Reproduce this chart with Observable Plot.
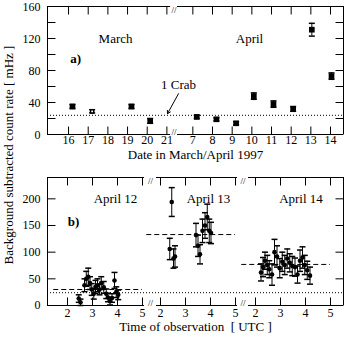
<!DOCTYPE html>
<html><head><meta charset="utf-8">
<script src="https://cdn.jsdelivr.net/npm/d3@7"></script>
<script src="https://cdn.jsdelivr.net/npm/@observablehq/plot@0.6"></script>
<style>
body{margin:0;background:#fff;}
#wrap{position:relative;width:346px;height:337px;font-family:"Liberation Serif","DejaVu Serif",serif;}
#topPanel,#botPanel{display:block;line-height:0;}
#ylab{position:absolute;left:8px;top:155px;transform:translate(-50%,-50%) rotate(-90deg);white-space:nowrap;font-size:13px;line-height:13px;}
</style></head><body>
<div id="wrap"><div id="topPanel"></div><div id="botPanel"></div><div id="ylab">Background subtracted count rate [ mHz ]</div></div>
<script>
// ---------- data: panel a ----------
const crabRate = 24;
const marchDays = [16, 17, 18, 19, 20, 21];
const aprilDays = [7, 8, 9, 10, 11, 12, 13, 14];
const marchObs = [16.2, 17.2, 19.2, 20.15];
const marchRate = [35, 29, 35, 17];
const marchErr = [2.5, 2, 2.5, 3];
const marchOpen = [false, true, false, false];
const aprilObs = [7.2, 8.2, 9.2, 10.1, 11.1, 12.1, 13.05, 14.05];
const aprilRate = [22, 19, 14, 48, 38, 32, 131, 73];
const aprilErr = [2, 2, 2, 4, 4, 3, 8, 4];
const topYTicks = [0, 20, 40, 60, 80, 100, 120, 140, 160];
const topYLabels = [0, 40, 80, 120, 160];

// ---------- data: panel b ----------
const hourTicks = [2, 3, 4, 5];
const botYTicks = [0, 50, 100, 150, 200];
const apr12Hour = [2.45, 2.52, 2.68, 2.75, 2.83, 2.9, 2.97, 3.05, 3.12, 3.2, 3.28, 3.35, 3.45, 3.55, 3.62, 3.7, 3.78, 3.88, 3.95, 4.03];
const apr12Rate = [13, 6, 38, 50, 54, 42, 30, 22, 35, 38, 30, 42, 34, 22, 15, 8, 14, 47, 25, 20];
const apr12Err  = [7, 6, 12, 14, 16, 12, 11, 10, 12, 12, 10, 12, 11, 9, 8, 7, 8, 15, 10, 9];
const apr13Hour = [2.37, 2.45, 2.52, 2.58, 3.42, 3.5, 3.58, 3.68, 3.78, 3.87, 3.95, 4.02];
const apr13Rate = [106, 194, 88, 92, 132, 112, 96, 140, 150, 166, 140, 136];
const apr13Err  = [20, 27, 18, 20, 22, 20, 18, 22, 24, 24, 22, 20];
const apr14Hour = [2.22, 2.3, 2.38, 2.47, 2.55, 2.66, 2.76, 2.86, 2.97, 3.07, 3.17, 3.27, 3.37, 3.47, 3.58, 3.68, 3.78, 3.88, 3.97, 4.07, 4.18];
const apr14Rate = [62, 72, 84, 76, 68, 58, 100, 92, 70, 82, 76, 88, 80, 74, 72, 58, 84, 90, 76, 66, 56];
const apr14Err  = [16, 18, 16, 18, 16, 20, 24, 20, 18, 18, 18, 18, 17, 18, 17, 16, 20, 20, 18, 17, 16];
const nightMeans = [30, 133, 77];
const nightNames = ["April 12", "April 13", "April 14"];
const nightLabelHour = [3.92, 3.92, 3.82];

// ---------- broken-axis mappings ----------
const uMarch = d => d - 16;
const uApril = d => d - 7 + 6.32;
const segOffset = [0, 3.72, 7.52];

const black = "black";
const FONT = '"Liberation Serif","DejaVu Serif",serif';
const tickUp = {draw(c){c.moveTo(0,0);c.lineTo(0,-8);}};
const tickDown = {draw(c){c.moveTo(0,0);c.lineTo(0,8);}};
const tickRight = {draw(c){c.moveTo(0,0);c.lineTo(8,0);}};
const tickLeft = {draw(c){c.moveTo(0,0);c.lineTo(-8,0);}};
const cap = {draw(c){c.moveTo(-3,0);c.lineTo(3,0);}};
const tickDot = (data, opts, sym) => Plot.dot(data, {...opts, symbol: sym, stroke: black, fill: "none", strokeWidth: 1});

// ---------- panel a ----------
const topPts = [
  ...marchObs.map((d, i) => ({u: uMarch(d), v: marchRate[i], e: marchErr[i], open: marchOpen[i]})),
  ...aprilObs.map((d, i) => ({u: uApril(d), v: aprilRate[i], e: aprilErr[i], open: false}))
];
const dayTicks = [
  ...marchDays.map(d => ({u: uMarch(d), label: String(d)})),
  ...aprilDays.map(d => ({u: uApril(d), label: String(d)}))
];
const topX = [-1.07, 13.98];
const topSegs = [[-1.07, 5.19], [5.54, 13.98]];

const topChart = Plot.plot({
  width: 346, height: 169, marginLeft: 47, marginRight: 3, marginTop: 6, marginBottom: 35,
  x: {domain: topX, axis: null},
  y: {domain: [0, 160], axis: null},
  style: {fontFamily: FONT, fontSize: "12px", background: "white", color: "black"},
  marks: [
    Plot.ruleY([crabRate], {stroke: black, strokeDasharray: "1,2"}),
    ...topSegs.map(s => Plot.ruleY([0, 160], {x1: s[0], x2: s[1], stroke: black})),
    Plot.ruleX(topX, {stroke: black}),
    Plot.text(["//"], {x: 5.36, frameAnchor: "top", text: d => d, fontSize: 9}),
    Plot.text(["//"], {x: 5.36, frameAnchor: "bottom", text: d => d, fontSize: 9}),
    tickDot(dayTicks, {x: "u", frameAnchor: "bottom"}, tickUp),
    tickDot(dayTicks, {x: "u", frameAnchor: "top"}, tickDown),
    tickDot(topYTicks, {y: d => d, frameAnchor: "left"}, tickRight),
    tickDot(topYTicks, {y: d => d, frameAnchor: "right"}, tickLeft),
    Plot.text(dayTicks, {x: "u", text: "label", frameAnchor: "bottom", dy: 9}),
    Plot.text(topYLabels, {y: d => d, text: d => String(d), frameAnchor: "left", textAnchor: "end", dx: -7, dy: 1}),
    Plot.text(["Date in March/April 1997"], {frameAnchor: "bottom", text: d => d, dy: 24, fontSize: 13}),
    Plot.ruleX(topPts, {x: "u", y1: d => d.v - d.e, y2: d => d.v + d.e, stroke: black}),
    Plot.dot(topPts, {x: "u", y: d => d.v + d.e, symbol: cap, stroke: black, fill: "none"}),
    Plot.dot(topPts, {x: "u", y: d => d.v - d.e, symbol: cap, stroke: black, fill: "none"}),
    Plot.dot(topPts.filter(d => !d.open), {x: "u", y: "v", symbol: "square", r: 3.2, fill: black, stroke: "none"}),
    Plot.dot(topPts.filter(d => d.open), {x: "u", y: "v", symbol: "square", r: 1.8, fill: "white", stroke: black}),
    Plot.text(["March"], {x: 2.39, y: 119, text: d => d, fontSize: 13}),
    Plot.text(["April"], {x: 9.2, y: 119, text: d => d, fontSize: 13}),
    Plot.text(["a)"], {x: 0.36, y: 95, text: d => d, fontWeight: "bold", fontSize: 13}),
    Plot.text(["1 Crab"], {x: 5.59, y: 62.5, text: d => d, fontSize: 13}),
    Plot.arrow([{x1: 5.59, y1: 51, x2: 5.03, y2: 26}], {x1: "x1", y1: "y1", x2: "x2", y2: "y2", stroke: black, headLength: 5, strokeWidth: 1})
  ]
});
document.getElementById("topPanel").appendChild(topChart);

// ---------- panel b ----------
const nights = [
  [apr12Hour, apr12Rate, apr12Err],
  [apr13Hour, apr13Rate, apr13Err],
  [apr14Hour, apr14Rate, apr14Err]
];
const botPts = nights.flatMap(([h, r, e], k) => h.map((hh, i) => ({u: hh + segOffset[k], v: r[i], e: e[i]})));
const hourTickData = segOffset.flatMap(off => hourTicks.map(h => ({u: h + off, label: String(h)})));
const botX = [1.2, 13.04];
const botSegs = [[1.2, 5.08], [5.56, 8.8], [9.24, 13.04]];
const botBreaks = [5.32, 9.02];
const meanLines = nightMeans.map((m, k) => ({x1: 1.45 + segOffset[k], x2: 5.0 + segOffset[k], v: m}));
const nightLabels = nightNames.map((n, k) => ({u: nightLabelHour[k] + segOffset[k], n}));

const botChart = Plot.plot({
  width: 346, height: 168, marginLeft: 47, marginRight: 3, marginTop: 8, marginBottom: 32,
  x: {domain: botX, axis: null},
  y: {domain: [0, 240], axis: null},
  style: {fontFamily: FONT, fontSize: "12px", background: "white", color: "black"},
  marks: [
    Plot.ruleY([crabRate], {stroke: black, strokeDasharray: "1,2"}),
    Plot.ruleY(meanLines, {x1: "x1", x2: "x2", y: "v", stroke: black, strokeDasharray: "5,3"}),
    ...botSegs.map(s => Plot.ruleY([0, 240], {x1: s[0], x2: s[1], stroke: black})),
    Plot.ruleX(botX, {stroke: black}),
    Plot.text(botBreaks, {x: d => d, frameAnchor: "top", text: () => "//", fontSize: 9}),
    Plot.text(botBreaks, {x: d => d, frameAnchor: "bottom", text: () => "//", fontSize: 9}),
    tickDot(hourTickData, {x: "u", frameAnchor: "bottom"}, tickUp),
    tickDot(hourTickData, {x: "u", frameAnchor: "top"}, tickDown),
    tickDot(botYTicks, {y: d => d, frameAnchor: "left"}, tickRight),
    tickDot(botYTicks, {y: d => d, frameAnchor: "right"}, tickLeft),
    Plot.text(hourTickData, {x: "u", text: "label", frameAnchor: "bottom", dy: 11}),
    Plot.text(botYTicks, {y: d => d, text: d => String(d), frameAnchor: "left", textAnchor: "end", dx: -7}),
    Plot.text(["Time of observation  [ UTC ]"], {frameAnchor: "bottom", text: d => d, dy: 25, fontSize: 13}),
    Plot.ruleX(botPts, {x: "u", y1: d => d.v - d.e, y2: d => d.v + d.e, stroke: black}),
    Plot.dot(botPts, {x: "u", y: d => d.v + d.e, symbol: cap, stroke: black, fill: "none"}),
    Plot.dot(botPts, {x: "u", y: d => d.v - d.e, symbol: cap, stroke: black, fill: "none"}),
    Plot.dot(botPts, {x: "u", y: "v", r: 2.3, fill: black, stroke: "none"}),
    Plot.text(nightLabels, {x: "u", y: 200, text: "n", fontSize: 13}),
    Plot.text(["b)"], {x: 2.24, y: 156, text: d => d, fontWeight: "bold", fontSize: 13})
  ]
});
document.getElementById("botPanel").appendChild(botChart);
</script>
</body></html>
